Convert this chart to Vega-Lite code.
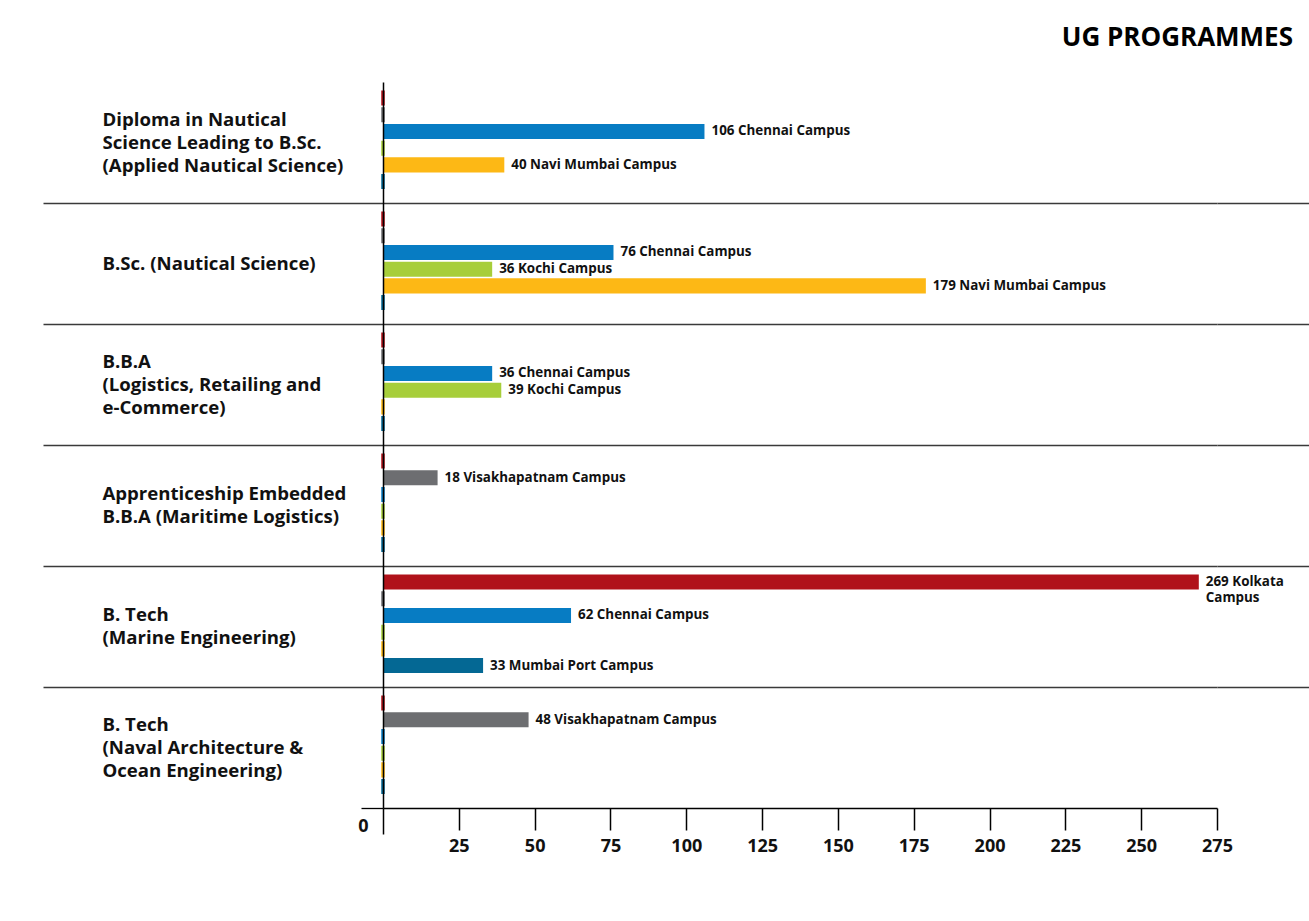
{
  "$schema": "https://vega.github.io/schema/vega-lite/v6.json",
  "width": 834,
  "height": 726,
  "autosize": {"type": "none"},
  "padding": {"left": 383, "top": 82, "right": 92, "bottom": 113},
  "background": "white",
  "title": {
    "text": "UG PROGRAMMES",
    "anchor": "end",
    "frame": "group",
    "dx": 76,
    "offset": 10,
    "baseline": "alphabetic",
    "fontSize": 26,
    "fontWeight": "bold",
    "font": "Open Sans",
    "color": "#000000"
  },
  "config": {
    "font": "Open Sans",
    "view": {"stroke": null}
  },
  "data": {
    "values": [
      {"programme": "Diploma in Nautical|Science Leading to B.Sc.|(Applied Nautical Science)", "campus": "Kolkata", "students": 0},
      {"programme": "Diploma in Nautical|Science Leading to B.Sc.|(Applied Nautical Science)", "campus": "Visakhapatnam", "students": 0},
      {"programme": "Diploma in Nautical|Science Leading to B.Sc.|(Applied Nautical Science)", "campus": "Chennai", "students": 106, "label": "106 Chennai Campus"},
      {"programme": "Diploma in Nautical|Science Leading to B.Sc.|(Applied Nautical Science)", "campus": "Kochi", "students": 0},
      {"programme": "Diploma in Nautical|Science Leading to B.Sc.|(Applied Nautical Science)", "campus": "Navi Mumbai", "students": 40, "label": "40 Navi Mumbai Campus"},
      {"programme": "Diploma in Nautical|Science Leading to B.Sc.|(Applied Nautical Science)", "campus": "Mumbai Port", "students": 0},
      {"programme": "B.Sc. (Nautical Science)", "campus": "Kolkata", "students": 0},
      {"programme": "B.Sc. (Nautical Science)", "campus": "Visakhapatnam", "students": 0},
      {"programme": "B.Sc. (Nautical Science)", "campus": "Chennai", "students": 76, "label": "76 Chennai Campus"},
      {"programme": "B.Sc. (Nautical Science)", "campus": "Kochi", "students": 36, "label": "36 Kochi Campus"},
      {"programme": "B.Sc. (Nautical Science)", "campus": "Navi Mumbai", "students": 179, "label": "179 Navi Mumbai Campus"},
      {"programme": "B.Sc. (Nautical Science)", "campus": "Mumbai Port", "students": 0},
      {"programme": "B.B.A|(Logistics, Retailing and|e-Commerce)", "campus": "Kolkata", "students": 0},
      {"programme": "B.B.A|(Logistics, Retailing and|e-Commerce)", "campus": "Visakhapatnam", "students": 0},
      {"programme": "B.B.A|(Logistics, Retailing and|e-Commerce)", "campus": "Chennai", "students": 36, "label": "36 Chennai Campus"},
      {"programme": "B.B.A|(Logistics, Retailing and|e-Commerce)", "campus": "Kochi", "students": 39, "label": "39 Kochi Campus"},
      {"programme": "B.B.A|(Logistics, Retailing and|e-Commerce)", "campus": "Navi Mumbai", "students": 0},
      {"programme": "B.B.A|(Logistics, Retailing and|e-Commerce)", "campus": "Mumbai Port", "students": 0},
      {"programme": "Apprenticeship Embedded|B.B.A (Maritime Logistics)", "campus": "Kolkata", "students": 0},
      {"programme": "Apprenticeship Embedded|B.B.A (Maritime Logistics)", "campus": "Visakhapatnam", "students": 18, "label": "18 Visakhapatnam Campus"},
      {"programme": "Apprenticeship Embedded|B.B.A (Maritime Logistics)", "campus": "Chennai", "students": 0},
      {"programme": "Apprenticeship Embedded|B.B.A (Maritime Logistics)", "campus": "Kochi", "students": 0},
      {"programme": "Apprenticeship Embedded|B.B.A (Maritime Logistics)", "campus": "Navi Mumbai", "students": 0},
      {"programme": "Apprenticeship Embedded|B.B.A (Maritime Logistics)", "campus": "Mumbai Port", "students": 0},
      {"programme": "B. Tech|(Marine Engineering)", "campus": "Kolkata", "students": 269, "label": "269 Kolkata|Campus"},
      {"programme": "B. Tech|(Marine Engineering)", "campus": "Visakhapatnam", "students": 0},
      {"programme": "B. Tech|(Marine Engineering)", "campus": "Chennai", "students": 62, "label": "62 Chennai Campus"},
      {"programme": "B. Tech|(Marine Engineering)", "campus": "Kochi", "students": 0},
      {"programme": "B. Tech|(Marine Engineering)", "campus": "Navi Mumbai", "students": 0},
      {"programme": "B. Tech|(Marine Engineering)", "campus": "Mumbai Port", "students": 33, "label": "33 Mumbai Port Campus"},
      {"programme": "B. Tech|(Naval Architecture &|Ocean Engineering)", "campus": "Kolkata", "students": 0},
      {"programme": "B. Tech|(Naval Architecture &|Ocean Engineering)", "campus": "Visakhapatnam", "students": 48, "label": "48 Visakhapatnam Campus"},
      {"programme": "B. Tech|(Naval Architecture &|Ocean Engineering)", "campus": "Chennai", "students": 0},
      {"programme": "B. Tech|(Naval Architecture &|Ocean Engineering)", "campus": "Kochi", "students": 0},
      {"programme": "B. Tech|(Naval Architecture &|Ocean Engineering)", "campus": "Navi Mumbai", "students": 0},
      {"programme": "B. Tech|(Naval Architecture &|Ocean Engineering)", "campus": "Mumbai Port", "students": 0}
    ]
  },
  "layer": [
    {
      "transform": [{"filter": "datum.students > 0"}],
      "mark": {"type": "bar"},
      "encoding": {
        "y": {
          "field": "programme", "type": "nominal", "sort": null,
          "scale": {"paddingInner": 0, "paddingOuter": 0},
          "axis": {
            "title": null, "orient": "left", "zindex": 1,
            "domain": true, "domainColor": "#000000", "domainWidth": 1.5,
            "ticks": false, "grid": false,
            "labelExpr": "split(datum.label, '|')",
            "labelAlign": "left", "labelBaseline": "middle",
            "labelOffset": {"condition": [
              {"test": "length(split(datum.value, '|')) === 3", "value": -23},
              {"test": "length(split(datum.value, '|')) === 2", "value": -11.5}
            ], "value": 0},
            "labelPadding": 281, "labelFontSize": 18.6, "labelFontWeight": "bold",
            "labelColor": "#111111", "labelLineHeight": 23, "labelLimit": 0,
            "labelOverlap": false, "labelBound": false
          }
        },
        "yOffset": {
          "field": "campus", "type": "nominal",
          "sort": ["Kolkata", "Visakhapatnam", "Chennai", "Kochi", "Navi Mumbai", "Mumbai Port"],
          "scale": {"domain": ["Kolkata", "Visakhapatnam", "Chennai", "Kochi", "Navi Mumbai", "Mumbai Port"], "paddingInner": 0.1, "paddingOuter": 0.67, "align": 0.38}
        },
        "x": {
          "field": "students", "type": "quantitative",
          "scale": {"domain": [0, 275], "nice": false, "zero": true},
          "axis": {
            "title": null, "orient": "bottom",
            "values": [0, 25, 50, 75, 100, 125, 150, 175, 200, 225, 250, 275],
            "domain": true, "domainColor": "#000000", "domainWidth": 1.5,
            "ticks": true, "tickColor": "#000000", "tickWidth": 1.5,
            "tickSize": {"condition": {"test": "datum.value === 0", "value": 26}, "value": 22},
            "grid": false,
            "labelFontSize": 18, "labelFontWeight": "bold", "labelColor": "#111111",
            "labelPadding": {"condition": {"test": "datum.value === 0", "value": -17}, "value": 7},
            "labelOffset": {"condition": {"test": "datum.value === 0", "value": -20}, "value": 0},
            "labelFlush": false, "labelOverlap": false, "labelBound": false
          }
        },
        "color": {
          "field": "campus", "type": "nominal", "legend": null,
          "scale": {
            "domain": ["Kolkata", "Visakhapatnam", "Chennai", "Kochi", "Navi Mumbai", "Mumbai Port"],
            "range": ["#B0121A", "#6D6E71", "#077CC3", "#A7CE3A", "#FDB815", "#046894"]
          }
        }
      }
    },
    {
      "transform": [{"filter": "datum.students == 0"}],
      "mark": {"type": "bar", "strokeWidth": 3.5},
      "encoding": {
        "y": {
          "field": "programme", "type": "nominal", "sort": null,
          "scale": {"paddingInner": 0, "paddingOuter": 0},
          "axis": {
            "title": null, "orient": "left", "zindex": 0,
            "domain": false, "labels": false,
            "ticks": true, "bandPosition": 1,
            "tickSize": {"condition": {"test": "datum.value === 'B. Tech|(Naval Architecture &|Ocean Engineering)'", "value": 22}, "value": 340},
            "tickColor": {"condition": {"test": "datum.value === 'B. Tech|(Naval Architecture &|Ocean Engineering)'", "value": "#000000"}, "value": "#3a3a3a"},
            "tickWidth": 1.3,
            "grid": true,
            "gridColor": "#3a3a3a", "gridWidth": 1.3,
            "gridOpacity": {"condition": {"test": "datum.value === 'B. Tech|(Naval Architecture &|Ocean Engineering)'", "value": 0}, "value": 1}
          }
        },
        "yOffset": {
          "field": "campus", "type": "nominal",
          "sort": ["Kolkata", "Visakhapatnam", "Chennai", "Kochi", "Navi Mumbai", "Mumbai Port"],
          "scale": {"domain": ["Kolkata", "Visakhapatnam", "Chennai", "Kochi", "Navi Mumbai", "Mumbai Port"], "paddingInner": 0.1, "paddingOuter": 0.67, "align": 0.38}
        },
        "x": {"field": "students", "type": "quantitative", "scale": {"domain": [0, 275], "nice": false, "zero": true}},
        "color": {
          "field": "campus", "type": "nominal", "legend": null,
          "scale": {
            "domain": ["Kolkata", "Visakhapatnam", "Chennai", "Kochi", "Navi Mumbai", "Mumbai Port"],
            "range": ["#B0121A", "#6D6E71", "#077CC3", "#A7CE3A", "#FDB815", "#046894"]
          }
        },
        "stroke": {
          "field": "campus", "type": "nominal", "legend": null,
          "scale": {
            "domain": ["Kolkata", "Visakhapatnam", "Chennai", "Kochi", "Navi Mumbai", "Mumbai Port"],
            "range": ["#B0121A", "#6D6E71", "#077CC3", "#A7CE3A", "#FDB815", "#046894"]
          }
        }
      }
    },
    {
      "transform": [{"filter": "datum.students > 0"}],
      "mark": {"type": "text", "align": "left", "baseline": "middle", "dx": 7, "fontSize": 13.4, "fontWeight": "bold", "color": "#111111", "lineBreak": "|", "lineHeight": 16},
      "encoding": {
        "y": {
          "field": "programme", "type": "nominal", "sort": null,
          "scale": {"paddingInner": 0, "paddingOuter": 0},
          "axis": {
            "title": null, "orient": "right", "zindex": 0,
            "domain": false, "labels": false, "grid": false,
            "ticks": true, "bandPosition": 1, "tickSize": 92,
            "tickColor": "#3a3a3a", "tickWidth": 1.3,
            "tickOpacity": {"condition": {"test": "datum.value === 'B. Tech|(Naval Architecture &|Ocean Engineering)'", "value": 0}, "value": 1}
          }
        },
        "yOffset": {
          "field": "campus", "type": "nominal",
          "sort": ["Kolkata", "Visakhapatnam", "Chennai", "Kochi", "Navi Mumbai", "Mumbai Port"],
          "scale": {"domain": ["Kolkata", "Visakhapatnam", "Chennai", "Kochi", "Navi Mumbai", "Mumbai Port"], "paddingInner": 0.1, "paddingOuter": 0.67, "align": 0.38}
        },
        "x": {"field": "students", "type": "quantitative", "scale": {"domain": [0, 275], "nice": false, "zero": true}},
        "text": {"field": "label", "type": "nominal"}
      }
    }
  ],
  "resolve": {"axis": {"y": "independent"}}
}
